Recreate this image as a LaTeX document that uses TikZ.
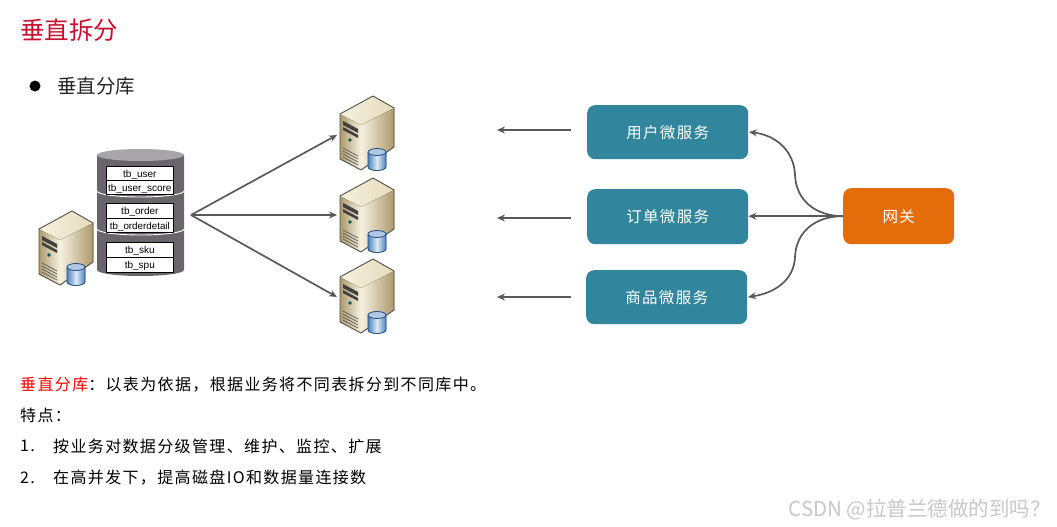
\documentclass[tikz,border=0pt]{standalone}
\usepackage{fontspec}
\setmainfont{Noto Sans CJK SC}
\newfontfamily\bodycjk[LetterSpace=8.5]{Noto Sans CJK SC}
\newfontfamily\tablefont{Liberation Sans}
\usetikzlibrary{arrows.meta}
\definecolor{teal1}{HTML}{31859C}
\definecolor{orange1}{HTML}{E46C0A}
\definecolor{arrowgrey}{HTML}{595959}
\definecolor{dbbody}{HTML}{6A646C}
\definecolor{dbtop}{HTML}{A8A6AA}
\definecolor{titlered}{HTML}{C8102E}
\definecolor{srvlight}{HTML}{F6F1DF}
\definecolor{srvmid}{HTML}{E6DCBC}
\definecolor{srvtan}{HTML}{AD9A6E}
\definecolor{srvedge}{HTML}{55534C}
\definecolor{cylblue}{HTML}{4F81BD}
\definecolor{cyllight}{HTML}{DCEBF7}
\definecolor{cyldark}{HTML}{23507F}
\tikzset{
  x=1pt,y=-1pt,
  service/.style={rounded corners=8pt,fill=teal1,text=white,font=\bodycjk\fontsize{15.5}{18}\selectfont,anchor=north west,inner sep=0pt},
  gateway/.style={rounded corners=8pt,fill=orange1,text=white,font=\bodycjk\fontsize{15.5}{18}\selectfont,anchor=north west,inner sep=0pt},
  flow/.style={draw=arrowgrey,line width=1.7pt,-{Stealth[length=8pt,width=7pt]}},
  txt/.style={anchor=west,inner sep=0pt,font=\bodycjk\fontsize{16}{18}\selectfont},
  tablecell/.style={draw=black,line width=.7pt,fill=white,minimum width=67pt,inner sep=0pt,text height=8pt,text depth=0pt,anchor=north west,font=\tablefont\fontsize{10}{11}\selectfont},
  serverpic/.pic={
    \fill[left color=srvtan,right color=srvlight] (0,18) -- (21,29) -- (21,74) -- (0,63) -- cycle;
    \fill[left color=srvlight,right color=srvtan] (21,29) -- (54,12) -- (54,51) -- (21,74) -- cycle;
    \fill[left color=srvlight,right color=srvmid] (0,18) -- (33,0) -- (54,12) -- (21,29) -- cycle;
    \draw[srvedge,line width=.9pt,line join=round] (0,18) -- (33,0) -- (54,12) -- (54,51) -- (21,74) -- (0,63) -- cycle;
    \fill[black!75] (3,25) -- (18,33) -- (18,37) -- (3,29) -- cycle;
    \fill[black!75] (3,31) -- (18,39) -- (18,42) -- (3,34) -- cycle;
    \fill[teal!70!black] (10,44) circle (1.8);
    \foreach \v in {52,55,58,61}{\draw[black!65,line width=.7pt] (3,\v) -- (18,\v+8);}
    \fill[left color=cylblue,right color=cylblue,middle color=cyllight] (28,56) -- (28,71) arc[start angle=180,end angle=0,x radius=9,y radius=3.5] -- (46,56) -- cycle;
    \fill[fill=cylblue!45!white] (37,56) ellipse[x radius=9,y radius=3.5];
    \draw[cyldark,line width=.8pt] (28,56) -- (28,71) arc[start angle=180,end angle=0,x radius=9,y radius=3.5] -- (46,56);
    \draw[cyldark,line width=.8pt] (37,56) ellipse[x radius=9,y radius=3.5];
  }
}
\begin{document}
\begin{tikzpicture}
\useasboundingbox (0,0) rectangle (1057,527);
% heading
\node[anchor=west,inner sep=0pt,text=titlered,font=\fontsize{24.5}{28}\selectfont] (title) at (20,30) {垂直拆分};
\node[circle,fill=black,minimum size=11pt,inner sep=0pt] (bullet) at (35,86) {};
\node[anchor=west,inner sep=0pt,font=\fontsize{19.5}{22}\selectfont,text=black!85] (sub) at (57,86) {垂直分库};
% database
\fill[dbbody] (97,155) -- (97,270) arc[start angle=180,end angle=0,x radius=43.5,y radius=6] -- (184,155) -- cycle;
\fill[dbtop] (140.5,155) ellipse[x radius=43.5,y radius=6];
\draw[white,line width=.9pt] (97,191) arc[start angle=180,end angle=0,x radius=43.5,y radius=6];
\draw[white,line width=.9pt] (97,229) arc[start angle=180,end angle=0,x radius=43.5,y radius=6];
\node[tablecell,minimum height=14pt] (t1) at (106,166) {tb\_user};
\node[tablecell,minimum height=14pt] (t2) at (106,180) {tb\_user\_score};
\node[tablecell,minimum height=15pt] (t3) at (106,203) {tb\_order};
\node[tablecell,minimum height=14pt,font=\tablefont\fontsize{9.8}{11}\selectfont] (t4) at (106,218) {tb\_orderdetail};
\node[tablecell,minimum height=15pt] (t5) at (106,242) {tb\_sku};
\node[tablecell,minimum height=15pt] (t6) at (106,257) {tb\_spu};
% servers
\pic at (39,211) {serverpic};
\pic at (340,96) {serverpic};
\pic at (340,178) {serverpic};
\pic at (340,259) {serverpic};
% split arrows
\coordinate (split) at (191,215);
\coordinate (s1) at (337,135);
\coordinate (s2) at (337,215);
\coordinate (s3) at (337,297);
\draw[flow] (split) -- (s1);
\draw[flow] (split) -- (s2);
\draw[flow] (split) -- (s3);
% service boxes
\node[service,minimum width=161pt,minimum height=54pt,text depth=1pt] (user) at (587,105) {用户微服务};
\node[service,minimum width=161pt,minimum height=55pt,text depth=1pt] (order) at (587,189) {订单微服务};
\node[service,minimum width=161pt,minimum height=54pt,text depth=1pt] (goods) at (586,270) {商品微服务};
\node[gateway,minimum width=111pt,minimum height=56pt] (gw) at (843,188) {网关};
% service to server arrows
\coordinate (a1s) at (571,130); \coordinate (a1e) at (497,130);
\coordinate (a2s) at (571,218); \coordinate (a2e) at (497,218);
\coordinate (a3s) at (571,297); \coordinate (a3e) at (497,297);
\draw[flow] (a1s) -- (a1e);
\draw[flow] (a2s) -- (a2e);
\draw[flow] (a3s) -- (a3e);
% gateway connectors
\coordinate (u1) at (749,132); \coordinate (u3) at (748,297);
\draw[flow] (gw.west) .. controls (815,216) and (796,200) .. (795,175) .. controls (794,150) and (775,135) .. (u1);
\draw[flow] (gw.west) -- (gw.west -| order.east);
\draw[flow] (gw.west) .. controls (815,216) and (796,232) .. (795,257) .. controls (794,280) and (775,293) .. (u3);
% body text
\node[txt] (b1) at (20,385) {\textcolor{red}{垂直分库}：以表为依据，根据业务将不同表拆分到不同库中。};
\node[txt] (b2) at (20,415) {特点：};
\node[txt] (n1) at (20,446) {1.};
\node[txt] (l1) at (53,446) {按业务对数据分级管理、维护、监控、扩展};
\node[txt] (n2) at (20,478) {2.};
\node[txt] (l2) at (53,478) {在高并发下，提高磁盘IO和数据量连接数};
% watermark
\node[anchor=east,inner sep=0pt,text=black!22,font=\fontsize{20.5}{24}\selectfont] (wm) at (1051,510) {CSDN @拉普兰德做的到吗？};
\end{tikzpicture}
\end{document}
